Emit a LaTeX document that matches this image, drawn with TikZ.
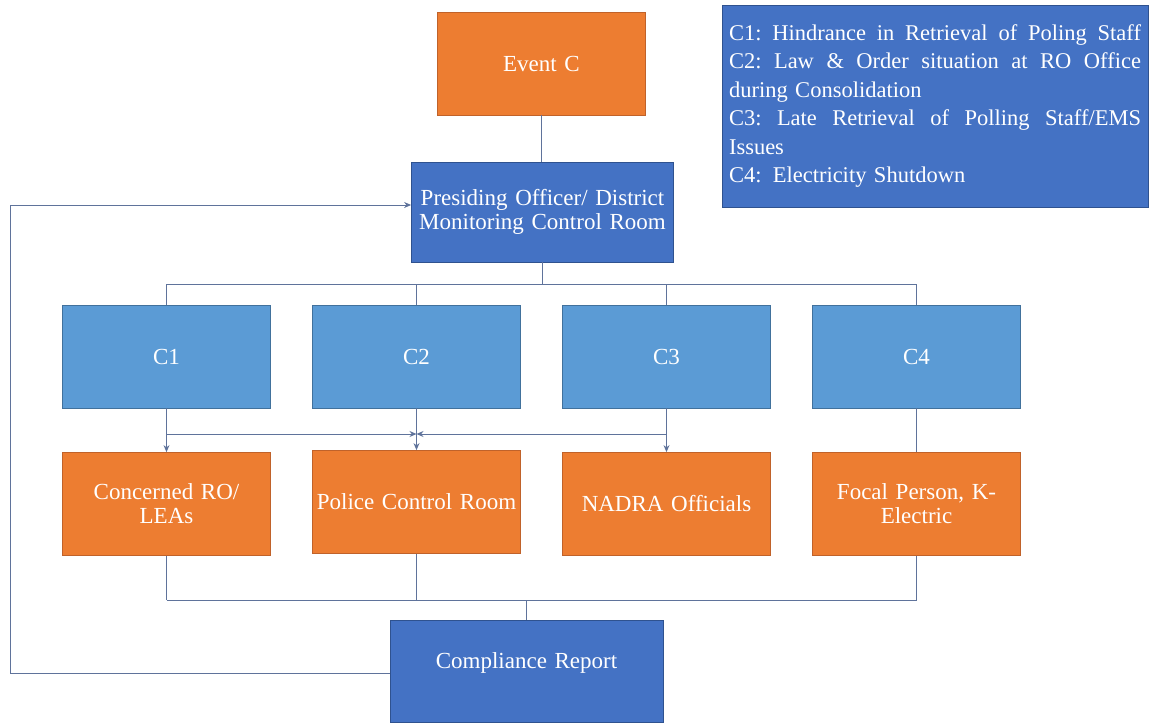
\documentclass[tikz,border=0pt]{standalone}
\usepackage{fontspec}
\setmainfont{Liberation Serif}
\usetikzlibrary{arrows.meta}
\definecolor{orng}{HTML}{ED7D31}
\definecolor{orngd}{HTML}{C0622A}
\definecolor{lblue}{HTML}{5B9BD5}
\definecolor{lblued}{HTML}{41719C}
\definecolor{dblue}{HTML}{4472C4}
\definecolor{dblued}{HTML}{2F528F}
\definecolor{conn}{RGB}{95,115,155}
\newcommand{\jl}[1]{\leavevmode\hbox to 412pt{#1}}
\tikzset{
  box/.style={draw, line width=0.8pt, text=white, align=center, inner sep=2pt,
    font=\fontsize{23}{24}\selectfont},
  obox/.style={box, fill=orng, draw=orngd, minimum width=207pt, minimum height=103pt, text width=204pt},
  cbox/.style={box, fill=lblue, draw=lblued, minimum width=207pt, minimum height=103pt, text width=204pt},
  bbox/.style={box, fill=dblue, draw=dblued},
  conn/.style={draw=conn, line width=1pt},
  arr/.style={conn, -{Stealth[length=7pt,width=6pt]}}
}
\begin{document}
\begin{tikzpicture}[x=1pt,y=-1pt]
\useasboundingbox (0,0) rectangle (1151,726);
% nodes
\node[obox] (ev) at (541.5,63.5) {Event C};
\node[bbox, minimum width=259pt, minimum height=100pt, text width=258pt] (po) at (542.5,212)
  {Presiding Officer/ District\\ Monitoring Control Room};
\node[cbox] (c1) at (166.5,356.5) {C1};
\node[cbox] (c2) at (416.5,356.5) {C2};
\node[cbox] (c3) at (666.5,356.5) {C3};
\node[cbox] (c4) at (916.5,356.5) {C4};
\node[obox] (o1) at (166.5,504) {Concerned RO/\\ LEAs};
\node[obox] (o2) at (416.5,502) {Police Control Room};
\node[obox] (o3) at (666.5,504) {NADRA Officials};
\node[obox] (o4) at (916.5,504) {Focal Person, K-\\ Electric};
\node[bbox, minimum width=273pt, minimum height=102pt, text width=265pt] (cr) at (526.5,671)
  {Compliance Report\\[-4pt]\mbox{}};
\node[bbox, minimum width=426pt, minimum height=202pt, text width=412pt, align=left,
  font=\fontsize{22.5}{28.5}\selectfont] (lg) at (935,106)
  {\jl{C1:\hfill Hindrance\hfill in\hfill Retrieval\hfill of\hfill Poling\hfill Staff}\\
   \jl{C2:\hfill Law\hfill \&\hfill Order\hfill situation\hfill at\hfill RO\hfill Office}\\
   during Consolidation\\
   \jl{C3:\hfill Late\hfill Retrieval\hfill of\hfill Polling\hfill Staff/EMS}\\
   Issues\\
   C4: Electricity Shutdown};
% coordinates
\coordinate (bt) at (542.5,284);
\coordinate (b1) at (166.5,284);
\coordinate (b4) at (916.5,284);
\coordinate (m1) at (166.5,434);
\coordinate (m2) at (416.5,434);
\coordinate (m3) at (666.5,434);
\coordinate (l1) at (166.5,600);
\coordinate (l2) at (416.5,600);
\coordinate (l4) at (916.5,600);
\coordinate (lc) at (526.5,600);
\coordinate (lp1) at (10,673);
\coordinate (lp2) at (10,205);
% connectors
\draw[conn] (ev.south) -- (ev.south |- po.north);
\draw[conn] (po.south) -- (bt);
\draw[conn] (b1) -- (b4);
\draw[conn] (b1) -- (c1.north);
\draw[conn] (c2.north |- b1) -- (c2.north);
\draw[conn] (c3.north |- b1) -- (c3.north);
\draw[conn] (b4) -- (c4.north);
\draw[arr] (c1.south) -- (o1.north);
\draw[arr] (c2.south) -- (o2.north);
\draw[arr] (c3.south) -- (o3.north);
\draw[arr] (m1) -- (m2);
\draw[arr] (m3) -- (m2);
\draw[conn] (c4.south) -- (o4.north);
\draw[conn] (o1.south) -- (l1);
\draw[conn] (o2.south) -- (l2);
\draw[conn] (o4.south) -- (l4);
\draw[conn] (l1) -- (l4);
\draw[conn] (lc) -- (cr.north);
\draw[arr] (cr.west |- lp1) -- (lp1) -- (lp2) -- (po.west |- lp2);
\end{tikzpicture}
\end{document}
